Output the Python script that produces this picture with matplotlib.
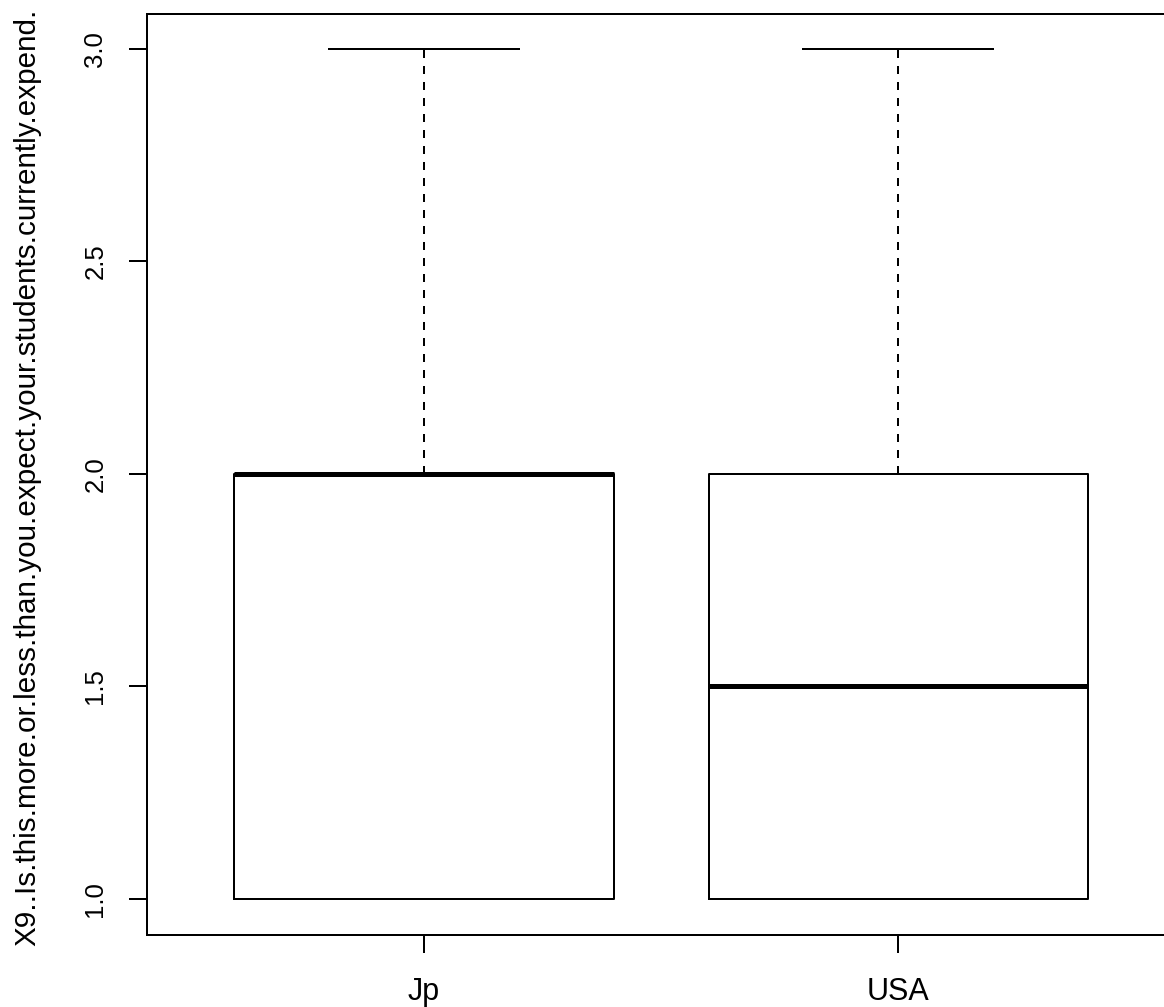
import matplotlib
matplotlib.use("Agg")
import matplotlib.pyplot as plt

groups = ["Jp", "USA"]
lower_whisker = [1.0, 1.0]
q1 = [1.0, 1.0]
medians = [2.0, 1.5]
q3 = [2.0, 2.0]
upper_whisker = [3.0, 3.0]
y_ticks = [1.0, 1.5, 2.0, 2.5, 3.0]
y_label = "X9..Is.this.more.or.less.than.you.expect.your.students.currently.expend."

plt.rcParams['font.family'] = ['Liberation Sans', 'DejaVu Sans']

fig = plt.figure(figsize=(11.64, 10.07), dpi=100)
ax = fig.add_axes([147 / 1164, 72 / 1007, 1020 / 1164, 921 / 1007])

stats = []
for i, g in enumerate(groups):
    stats.append({"label": g, "whislo": lower_whisker[i], "q1": q1[i], "med": medians[i],
                  "q3": q3[i], "whishi": upper_whisker[i], "fliers": []})

lw = 1.44
ax.bxp(stats, positions=[1, 2], widths=0.8, showfliers=False, patch_artist=False,
       boxprops=dict(color="black", linewidth=lw),
       medianprops=dict(color="black", linewidth=3.6, solid_capstyle="butt"),
       whiskerprops=dict(color="black", linewidth=lw, linestyle=(0, (4, 4))),
       capprops=dict(color="black", linewidth=lw),
       capwidths=0.4)

ax.set_xlim(0.4163, 2.5663)
ax.set_ylim(0.915, 3.082)
ax.set_yticks(y_ticks)
ax.set_yticklabels([f"{v:.1f}" for v in y_ticks], rotation=90, va="center", fontsize=18.5)
ax.set_xticks([1, 2])
ax.set_xticklabels(groups, fontsize=22)

for s in ax.spines.values():
    s.set_linewidth(lw)
ax.tick_params(axis="both", direction="out", length=13, width=lw)
ax.tick_params(axis="y", pad=15.5)
ax.tick_params(axis="x", pad=17.5)

fig.text(27 / 1164, 1 - 477 / 1007, y_label, rotation=90, ha="center", va="center",
         fontsize=21.3)

fig.savefig("out.png", dpi=100)
